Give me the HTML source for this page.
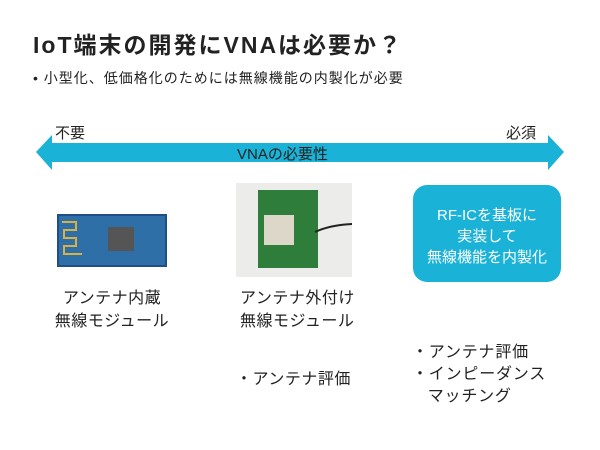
<!DOCTYPE html>
<html><head><meta charset="utf-8"><style>
body{margin:0;width:600px;height:450px;background:#fff;position:relative;overflow:hidden;font-family:"Liberation Sans","Noto Sans CJK JP",sans-serif;color:#222}
.a{position:absolute;white-space:nowrap}
</style></head><body>
<div class="a" style="left:33px;top:26px;font-size:23px;letter-spacing:2px;font-weight:bold;color:#222">IoT端末の開発にVNAは必要か？</div>
<div class="a" style="left:33px;top:68px;font-size:14px;letter-spacing:1px">•&nbsp;小型化、低価格化のためには無線機能の内製化が必要</div>
<svg class="a" style="left:0;top:0" width="600" height="450">
<polygon points="36,152 52,135 52,143 548,143 548,135 564,152 548,170 548,162 52,162 52,170" fill="#1ab2d6"/>
<rect x="413" y="185" width="148" height="97" rx="14" fill="#1ab2d6"/>
<rect x="57" y="214" width="110" height="53" fill="#1f4f86"/>
<rect x="59" y="216" width="106" height="49" fill="#2e6fa8"/>
<rect x="108" y="227" width="26" height="24" fill="#555"/>
<path d="M62 222 h14 v8 h-12 v8 h12 v8 h-12 v8 h18" stroke="#d8b048" stroke-width="2" fill="none"/>
<rect x="236" y="183" width="116" height="94" fill="#ececea"/>
<rect x="258" y="190" width="60" height="78" fill="#2e7d3a"/>
<rect x="264" y="215" width="30" height="30" fill="#dcd7c8"/>
<path d="M315 232 Q330 225 352 224" stroke="#222" stroke-width="2" fill="none"/>
</svg>
<div class="a" style="left:55px;top:122px;font-size:15px">不要</div>
<div class="a" style="left:506px;top:122px;font-size:15px">必須</div>
<div class="a" style="left:237px;top:143px;font-size:15px">VNAの必要性</div>
<div class="a" style="left:413px;top:205px;width:148px;text-align:center;font-size:15px;line-height:21px;color:#fff;white-space:normal">RF-ICを基板に<br>実装して<br>無線機能を内製化</div>
<div class="a" style="left:48px;top:287px;width:128px;text-align:center;font-size:16px;letter-spacing:0.5px;line-height:23px">アンテナ内蔵<br>無線モジュール</div>
<div class="a" style="left:240px;top:287px;font-size:16px;letter-spacing:0.5px;line-height:23px">アンテナ外付け<br>無線モジュール</div>
<div class="a" style="left:236px;top:365px;font-size:16px;letter-spacing:0.5px">・アンテナ評価</div>
<div class="a" style="left:412px;top:342px;font-size:16px;letter-spacing:0.8px;line-height:22px">・アンテナ評価<br>・インピーダンス<br>&nbsp;&nbsp;&nbsp;マッチング</div>
</body></html>
